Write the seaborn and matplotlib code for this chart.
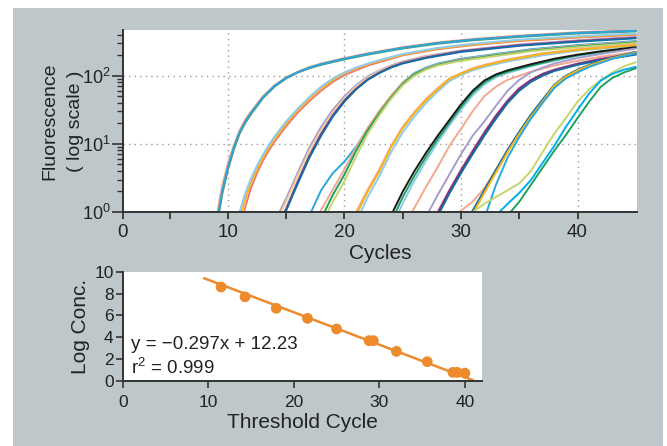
import numpy as np
import pandas as pd
import matplotlib
matplotlib.use('Agg')
import matplotlib.pyplot as plt
import seaborn as sns
from matplotlib.patches import Rectangle

grp_a_cycles = [9, 9.5, 10, 10.5, 11, 11.5, 12, 13, 14, 15, 16, 17, 18, 20, 22, 25, 28, 31, 35, 40, 45]
grp_a_logf = [
    [-0.10, 0.38, 0.72, 0.98, 1.20, 1.36, 1.48, 1.70, 1.86, 1.98, 2.06, 2.13, 2.18, 2.26, 2.33, 2.42, 2.49, 2.54, 2.59, 2.64, 2.67],
    [-0.25, 0.25, 0.62, 0.91, 1.15, 1.31, 1.44, 1.67, 1.84, 1.96, 2.05, 2.11, 2.16, 2.24, 2.31, 2.40, 2.47, 2.52, 2.57, 2.62, 2.65],
    [-0.22, 0.28, 0.64, 0.93, 1.16, 1.32, 1.45, 1.68, 1.85, 1.97, 2.05, 2.12, 2.17, 2.25, 2.32, 2.41, 2.48, 2.53, 2.58, 2.63, 2.66],
    [-0.20, 0.30, 0.66, 0.94, 1.17, 1.33, 1.46, 1.68, 1.85, 1.97, 2.05, 2.12, 2.17, 2.25, 2.32, 2.41, 2.48, 2.53, 2.58, 2.63, 2.66],
]
grp_a_colors = ['#f3a98f', '#3fae7a', '#a0695a', '#29a8dc']

grp_b_cycles = [11, 11.5, 12, 12.5, 13, 13.5, 14, 15, 16, 17, 18, 19, 20, 21, 22, 23, 25, 28, 31, 35, 40, 45]
grp_b_logf = [
    [-0.30, 0.08, 0.36, 0.57, 0.75, 0.90, 1.03, 1.26, 1.46, 1.63, 1.78, 1.91, 2.01, 2.08, 2.15, 2.20, 2.30, 2.39, 2.45, 2.51, 2.56, 2.60],
    [-0.10, 0.20, 0.44, 0.63, 0.80, 0.95, 1.08, 1.30, 1.50, 1.67, 1.82, 1.94, 2.04, 2.11, 2.17, 2.22, 2.31, 2.40, 2.46, 2.52, 2.57, 2.61],
    [0.00, 0.28, 0.50, 0.68, 0.84, 0.98, 1.11, 1.33, 1.52, 1.69, 1.84, 1.96, 2.05, 2.12, 2.18, 2.23, 2.32, 2.41, 2.47, 2.53, 2.58, 2.62],
]
grp_b_colors = ['#ee7b67', '#f5b41a', '#8dcbee']

grp_c_cycles = [14, 15, 16, 17, 18, 19, 20, 21, 22, 23, 24, 25, 27, 30, 35, 40, 45]
grp_c_logf = [
    [-0.15, 0.20, 0.58, 0.95, 1.25, 1.50, 1.70, 1.86, 1.99, 2.08, 2.15, 2.21, 2.29, 2.37, 2.46, 2.52, 2.57],
    [-0.20, 0.15, 0.53, 0.90, 1.20, 1.46, 1.67, 1.84, 1.97, 2.07, 2.14, 2.20, 2.28, 2.36, 2.45, 2.51, 2.56],
    [-0.30, 0.05, 0.45, 0.83, 1.15, 1.42, 1.64, 1.81, 1.95, 2.05, 2.13, 2.19, 2.27, 2.36, 2.45, 2.51, 2.56],
    [-0.35, 0.02, 0.42, 0.80, 1.12, 1.40, 1.62, 1.80, 1.94, 2.04, 2.12, 2.18, 2.26, 2.35, 2.44, 2.50, 2.55],
]
grp_c_colors = ['#a99ccb', '#f4d49a', '#8a3c82', '#136ea6']

grp_d_cycles = [17, 18, 19, 20, 21, 22, 23, 24, 25, 26, 27, 28, 30, 33, 36, 40, 45]
grp_d_logf = [
    [-0.05, 0.32, 0.57, 0.74, 0.96, 1.22, 1.47, 1.70, 1.90, 2.04, 2.12, 2.18, 2.25, 2.32, 2.39, 2.45, 2.51],
    [-0.30, 0.03, 0.33, 0.63, 0.95, 1.24, 1.49, 1.71, 1.90, 2.03, 2.11, 2.17, 2.24, 2.31, 2.38, 2.44, 2.50],
    [-0.40, -0.10, 0.25, 0.55, 0.90, 1.20, 1.45, 1.68, 1.88, 2.02, 2.10, 2.16, 2.23, 2.30, 2.37, 2.43, 2.49],
    [-0.50, -0.20, 0.15, 0.45, 0.82, 1.15, 1.42, 1.66, 1.86, 2.00, 2.09, 2.15, 2.22, 2.29, 2.36, 2.42, 2.48],
]
grp_d_colors = ['#29a8dc', '#f3a98f', '#1fa25e', '#c6d56e']

grp_e_cycles = [20, 21, 22, 23, 24, 25, 26, 27, 28, 29, 30, 31, 32, 34, 37, 40, 45]
grp_e_logf = [
    [-0.30, 0.00, 0.33, 0.63, 0.97, 1.25, 1.47, 1.66, 1.82, 1.96, 2.04, 2.11, 2.16, 2.24, 2.33, 2.39, 2.46],
    [-0.45, -0.15, 0.22, 0.53, 0.88, 1.17, 1.40, 1.60, 1.77, 1.92, 2.01, 2.08, 2.13, 2.21, 2.30, 2.37, 2.44],
    [-0.35, -0.05, 0.30, 0.60, 0.95, 1.23, 1.45, 1.64, 1.80, 1.95, 2.03, 2.10, 2.15, 2.23, 2.32, 2.38, 2.45],
]
grp_e_colors = ['#f3a98f', '#8dcbee', '#f5b41a']

grp_f_cycles = [23, 24, 25, 26, 27, 28, 29, 30, 31, 32, 33, 34, 36, 38, 40, 42, 45]
grp_f_logf = [
    [-0.90, -0.55, -0.20, 0.06, 0.37, 0.66, 0.97, 1.22, 1.48, 1.70, 1.84, 1.94, 2.06, 2.15, 2.22, 2.28, 2.35],
    [-0.55, -0.25, 0.13, 0.46, 0.75, 1.02, 1.27, 1.50, 1.71, 1.87, 1.98, 2.04, 2.14, 2.22, 2.29, 2.34, 2.40],
    [-0.45, -0.15, 0.22, 0.53, 0.81, 1.07, 1.31, 1.54, 1.75, 1.90, 2.00, 2.06, 2.15, 2.23, 2.30, 2.35, 2.41],
    [-0.35, -0.05, 0.30, 0.60, 0.87, 1.12, 1.35, 1.58, 1.78, 1.93, 2.02, 2.08, 2.17, 2.25, 2.31, 2.36, 2.42],
]
grp_f_colors = ['#f3a98f', '#8dcbee', '#1fa25e', '#1a1a1a']

grp_g_cycles = [27, 28, 29, 30, 31, 32, 33, 34, 35, 36, 37, 38, 40, 42, 45]
grp_g_logf = [
    [-0.07, 0.25, 0.55, 0.85, 1.12, 1.33, 1.56, 1.78, 1.94, 2.05, 2.12, 2.18, 2.26, 2.32, 2.40],
    [-0.28, 0.00, 0.32, 0.62, 0.90, 1.17, 1.42, 1.64, 1.82, 1.94, 2.03, 2.09, 2.18, 2.25, 2.33],
    [-0.30, -0.03, 0.30, 0.60, 0.88, 1.15, 1.40, 1.62, 1.80, 1.93, 2.02, 2.08, 2.17, 2.24, 2.32],
    [-0.33, -0.06, 0.27, 0.57, 0.85, 1.12, 1.37, 1.60, 1.78, 1.91, 2.00, 2.07, 2.16, 2.23, 2.31],
]
grp_g_colors = ['#a99ccb', '#b0508f', '#7a2e6e', '#136ea6']

grp_h_cycles = [29, 30, 31, 32, 33, 34, 35, 36, 37, 38, 39, 40, 41, 42, 43, 45]
grp_h_logf = [
    [-0.10, 0.02, 0.15, 0.35, 0.62, 0.92, 1.17, 1.41, 1.63, 1.84, 1.98, 2.07, 2.14, 2.20, 2.26, 2.34],
    [-0.55, -0.25, 0.02, 0.32, 0.62, 0.91, 1.18, 1.43, 1.65, 1.87, 2.00, 2.09, 2.16, 2.22, 2.27, 2.35],
    [-0.60, -0.30, -0.03, 0.28, 0.58, 0.88, 1.15, 1.40, 1.62, 1.86, 1.99, 2.08, 2.15, 2.21, 2.26, 2.34],
    [-1.00, -0.70, -0.40, -0.10, 0.40, 0.80, 1.10, 1.37, 1.60, 1.82, 1.96, 2.05, 2.13, 2.19, 2.25, 2.33],
]
grp_h_colors = ['#f3a98f', '#136ea6', '#f5b41a', '#29a8dc']

grp_i_cycles = [31, 32, 33, 34, 35, 36, 37, 38, 39, 40, 41, 42, 43, 44, 45]
grp_i_logf = [
    [0.00, 0.12, 0.22, 0.32, 0.42, 0.60, 0.88, 1.15, 1.38, 1.62, 1.80, 1.94, 2.05, 2.14, 2.20],
    [-0.60, -0.30, -0.05, 0.12, 0.28, 0.47, 0.72, 0.97, 1.25, 1.50, 1.74, 1.93, 2.03, 2.09, 2.13],
    [-0.90, -0.60, -0.30, -0.05, 0.15, 0.40, 0.65, 0.90, 1.13, 1.38, 1.62, 1.84, 1.97, 2.05, 2.11],
]
grp_i_colors = ['#c6d56e', '#00aeef', '#1fa25e']

# standard curve
ct_values = [11.5, 14.3, 17.95, 21.6, 25.0, 28.8, 29.3, 32.0, 35.6, 38.6, 39.1, 40.0]
log_conc = [8.6, 7.7, 6.65, 5.73, 4.76, 3.69, 3.69, 2.71, 1.77, 0.79, 0.79, 0.72]
fit_slope = -0.297
fit_intercept = 12.23
fit_span = [9.5, 41.0]

groups = [
    (grp_a_cycles, grp_a_logf, grp_a_colors), (grp_b_cycles, grp_b_logf, grp_b_colors),
    (grp_c_cycles, grp_c_logf, grp_c_colors), (grp_d_cycles, grp_d_logf, grp_d_colors),
    (grp_e_cycles, grp_e_logf, grp_e_colors), (grp_f_cycles, grp_f_logf, grp_f_colors),
    (grp_g_cycles, grp_g_logf, grp_g_colors), (grp_h_cycles, grp_h_logf, grp_h_colors),
    (grp_i_cycles, grp_i_logf, grp_i_colors),
]
rows = []
palette = {}
for g, (cyc, logf, cols) in enumerate(groups):
    for r, (vals, col) in enumerate(zip(logf, cols)):
        well = f'{g}-{r}'
        palette[well] = col
        for c, v in zip(cyc, vals):
            rows.append((well, c, 10 ** v))
amp = pd.DataFrame(rows, columns=['well', 'cycle', 'fluor'])

sns.set_theme(style='white')
plt.rcParams['font.family'] = ['Liberation Sans', 'DejaVu Sans']
plt.rcParams['mathtext.default'] = 'regular'
txt = '#222222'
spine_c = '#333333'
orange = '#ec8a2c'

fig = plt.figure(figsize=(6.67, 4.46), dpi=100)
fig.patch.set_facecolor('white')
fig.patches.append(Rectangle((13 / 667, 0), 650 / 667, 438 / 446, transform=fig.transFigure,
                             facecolor='#bec7c9', edgecolor='none', zorder=-10))

# amplification plot
ax1 = fig.add_axes([123 / 667, 234 / 446, 514 / 667, 182 / 446])
ax1.set_yscale('log')
sns.lineplot(data=amp, x='cycle', y='fluor', hue='well', palette=palette,
             estimator=None, legend=False, lw=1.4, ax=ax1)
ax1.set_xlim(1, 45.1)
ax1.set_ylim(1, 470)
ax1.set_xticks([10, 20, 30, 40])
ax1.set_xticks([1, 5, 15, 25, 35], labels=['0', '', '', '', ''], minor=True)
ax1.tick_params(axis='x', which='both', direction='out', length=5, width=1.3, color=spine_c,
                labelsize=13.5, labelcolor=txt, pad=3.5, bottom=True)
ax1.tick_params(axis='y', which='major', direction='out', length=8, width=1.2, color=spine_c,
                labelsize=13, labelcolor=txt, pad=1, left=True)
ax1.tick_params(axis='y', which='minor', direction='out', length=4, width=1, color=spine_c, left=True)
ax1.grid(True, which='major', ls=(0, (1, 3)), color='#9a9a9a', lw=1)
ax1.set_axisbelow(True)
ax1.set_xlabel('Cycles', fontsize=15, color=txt, labelpad=2.5)
ax1.set_ylabel('Fluorescence\n( log scale )', fontsize=14, color=txt, linespacing=1.7)
ax1.yaxis.label.set(rotation_mode='default', va='center', ha='center')
ax1.yaxis.set_label_coords(-0.117, 0.5)

# standard curve
ax2 = fig.add_axes([122.7 / 667, 65 / 446, 359.3 / 667, 109.3 / 446])
fit_x = np.array(fit_span)
sns.lineplot(x=fit_x, y=fit_slope * fit_x + fit_intercept, color=orange, lw=1.8, ax=ax2)
sns.scatterplot(x=ct_values, y=log_conc, color=orange, s=60, edgecolor='none', zorder=3, ax=ax2)
ax2.set_xlim(0, 42)
ax2.set_ylim(0, 10)
ax2.set_xticks([0, 10, 20, 30, 40])
ax2.set_yticks([0, 2, 4, 6, 8, 10])
ax2.tick_params(axis='x', direction='out', length=5, width=1.2, color=spine_c, labelsize=12.5,
                labelcolor=txt, pad=5, bottom=True)
ax2.tick_params(axis='y', direction='out', length=5, width=1.2, color=spine_c, labelsize=12.5,
                labelcolor=txt, pad=1.5, left=True)
ax2.set_xlabel('Threshold Cycle', fontsize=15, color=txt, labelpad=2)
ax2.set_ylabel('Log Conc.', fontsize=15, color=txt, labelpad=3)
ax2.text(0.023, 0.33, 'y = \u22120.297x + 12.23', transform=ax2.transAxes, fontsize=13.5,
         color=txt, va='center')
ax2.text(0.023, 0.12, 'r$^2$ = 0.999', transform=ax2.transAxes, fontsize=13.5, color=txt, va='center')

for ax in (ax1, ax2):
    sns.despine(ax=ax)
    for s in ('left', 'bottom'):
        ax.spines[s].set_color(spine_c)
        ax.spines[s].set_linewidth(1.4)

fig.savefig('out.png', dpi=100)
